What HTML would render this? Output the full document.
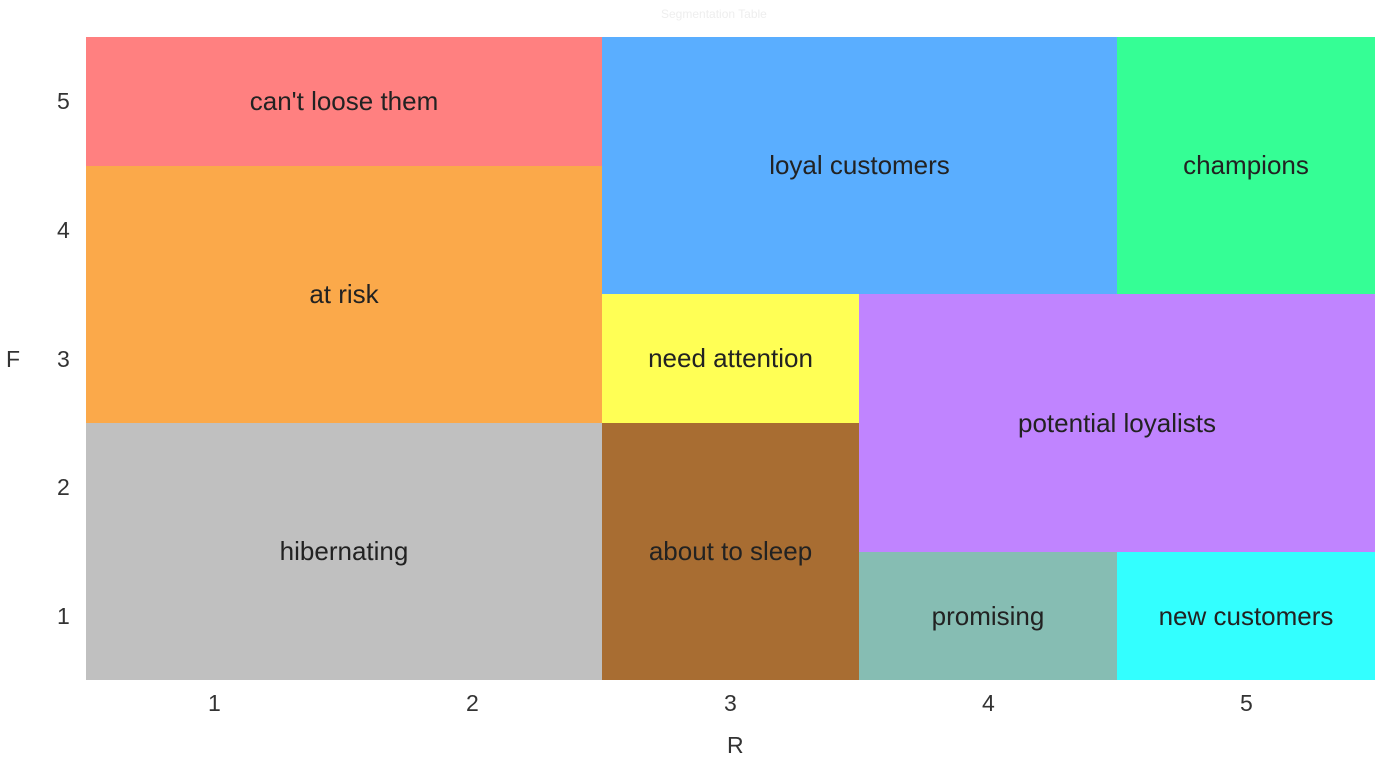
<!DOCTYPE html>
<html><head><meta charset="utf-8"><style>
body{margin:0;width:1400px;height:770px;background:#fff;position:relative;overflow:hidden;font-family:"Liberation Sans",sans-serif;}
.r{position:absolute;display:flex;align-items:center;justify-content:center;font-size:26px;color:#222;}
.t{position:absolute;font-size:23px;color:#333;}
</style></head><body>
<div class="t" style="left:661px;top:7px;font-size:12px;color:#eee">Segmentation Table</div>
<div class="r" style="left:86px;top:37px;width:516px;height:129px;background:#FF8080">can't loose them</div>
<div class="r" style="left:86px;top:166px;width:516px;height:257px;background:#FBA94A">at risk</div>
<div class="r" style="left:86px;top:423px;width:516px;height:257px;background:#C0C0C0">hibernating</div>
<div class="r" style="left:602px;top:37px;width:515px;height:257px;background:#5AAEFF">loyal customers</div>
<div class="r" style="left:1117px;top:37px;width:258px;height:257px;background:#35FE95">champions</div>
<div class="r" style="left:602px;top:294px;width:257px;height:129px;background:#FFFF55">need attention</div>
<div class="r" style="left:602px;top:423px;width:257px;height:257px;background:#A86D32">about to sleep</div>
<div class="r" style="left:859px;top:294px;width:516px;height:258px;background:#C084FF">potential loyalists</div>
<div class="r" style="left:859px;top:552px;width:258px;height:128px;background:#86BDB3">promising</div>
<div class="r" style="left:1117px;top:552px;width:258px;height:128px;background:#33FFFF">new customers</div>
<div class="t" style="left:57px;top:88px">5</div>
<div class="t" style="left:57px;top:217px">4</div>
<div class="t" style="left:57px;top:346px">3</div>
<div class="t" style="left:57px;top:474px">2</div>
<div class="t" style="left:57px;top:603px">1</div>
<div class="t" style="left:6px;top:346px">F</div>
<div class="t" style="left:208px;top:690px">1</div>
<div class="t" style="left:466px;top:690px">2</div>
<div class="t" style="left:724px;top:690px">3</div>
<div class="t" style="left:982px;top:690px">4</div>
<div class="t" style="left:1240px;top:690px">5</div>
<div class="t" style="left:727px;top:732px">R</div>
</body></html>
